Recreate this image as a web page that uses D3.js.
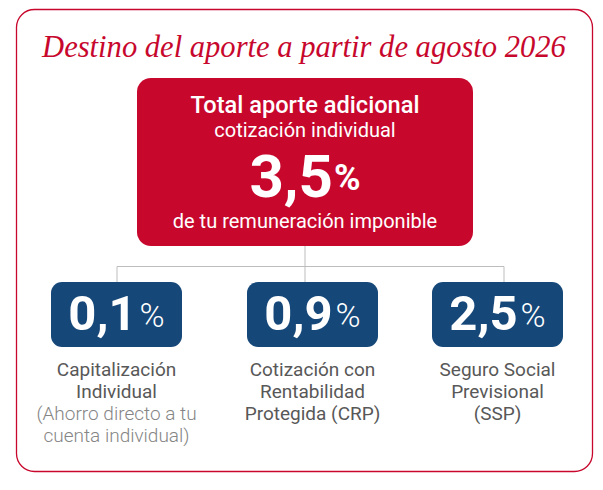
<!DOCTYPE html>
<html>
<head>
<meta charset="utf-8">
<script src="https://cdn.jsdelivr.net/npm/d3@7"></script>
<style>
  html, body { margin: 0; padding: 0; background: #fff; }
  svg { display: block; }
</style>
</head>
<body>
<div id="chart"></div>
<script>
// Chart content
const title = "Destino del aporte a partir de agosto 2026"
const totalHeading = "Total aporte adicional"
const totalSubheading = "cotización individual"
const totalValue = "3,5"
const totalFooter = "de tu remuneración imponible"

const categories = ["cap", "crp", "ssp"]
const partValues = ["0,1", "0,9", "2,5"]
const partLabels = [
  ["Capitalización", "Individual"],
  ["Cotización con", "Rentabilidad", "Protegida (CRP)"],
  ["Seguro Social", "Previsional", "(SSP)"]
]
const partNotes = [
  ["(Ahorro directo a tu", "cuenta individual)"],
  [],
  []
]

const config = {
  width: 603,
  height: 490,
  colors: {
    red: "#c8072d",
    blue: "#154778",
    line: "#bdbdbd",
    label: "#585858",
    note: "#858585"
  },
  font: "Roboto, 'Noto Sans', sans-serif"
}

const svg = d3.select("#chart")
  .append("svg")
  .attr("width", config.width)
  .attr("height", config.height)

// Outer frame
svg.append("rect")
  .attr("x", 16.5)
  .attr("y", 9.5)
  .attr("width", 576)
  .attr("height", 462)
  .attr("rx", 18)
  .attr("fill", "#fff")
  .attr("stroke", config.colors.red)
  .attr("stroke-width", 1.3)

// Title: shrink to the reference width only if it runs wider
const titleWidth = 524
const titleText = svg.append("text")
  .attr("x", 304)
  .attr("y", 57)
  .attr("text-anchor", "middle")
  .attr("font-family", "'Liberation Serif', 'DejaVu Serif', serif")
  .attr("font-style", "italic")
  .attr("font-size", 33)
  .attr("fill", config.colors.red)
  .text(title)

const natural = titleText.node().getComputedTextLength()
if (natural > titleWidth) {
  titleText.attr("font-size", 33 * titleWidth / natural)
}

// Total box
const totalBox = { x: 137, y: 78, w: 336, h: 168 }
const totalCx = totalBox.x + totalBox.w / 2

// Connectors
const dropX = [117, 305, 504]
const joinY = 266.5
const connectors = svg.append("g")
  .attr("stroke", config.colors.line)
  .attr("stroke-width", 1)
  .attr("fill", "none")

connectors.append("line")
  .attr("x1", totalCx).attr("x2", totalCx)
  .attr("y1", totalBox.y + totalBox.h).attr("y2", joinY)

connectors.append("line")
  .attr("x1", d3.min(dropX)).attr("x2", d3.max(dropX))
  .attr("y1", joinY).attr("y2", joinY)

connectors.selectAll("line.drop")
  .data(dropX)
  .join("line")
  .attr("class", "drop")
  .attr("x1", d => d).attr("x2", d => d)
  .attr("y1", joinY).attr("y2", 282)

svg.append("rect")
  .attr("x", totalBox.x)
  .attr("y", totalBox.y)
  .attr("width", totalBox.w)
  .attr("height", totalBox.h)
  .attr("rx", 14)
  .attr("fill", config.colors.red)

const totalText = svg.append("g")
  .attr("font-family", config.font)
  .attr("fill", "#fff")
  .attr("text-anchor", "middle")

totalText.append("text")
  .attr("x", totalCx).attr("y", 112.5)
  .attr("font-size", 23.6)
  .attr("font-weight", 500)
  .text(totalHeading)

totalText.append("text")
  .attr("x", totalCx).attr("y", 136.5)
  .attr("font-size", 20)
  .text(totalSubheading)

const big = totalText.append("text")
  .attr("x", totalCx).attr("y", 197)
  .attr("font-weight", 700)
  .attr("font-size", 60)
big.append("tspan").text(totalValue)
big.append("tspan")
  .attr("font-size", 36)
  .attr("dy", -7)
  .attr("dx", 1)
  .text("%")

totalText.append("text")
  .attr("x", totalCx).attr("y", 227.5)
  .attr("font-size", 20)
  .text(totalFooter)

// Part boxes
const xCenter = d3.scaleOrdinal()
  .domain(categories)
  .range([116.5, 312.5, 497.5])

const boxW = 131
const boxH = 65
const boxY = 282

const parts = svg.selectAll("g.part")
  .data(categories.map((c, i) => ({
    key: c,
    value: partValues[i],
    label: partLabels[i],
    note: partNotes[i]
  })))
  .join("g")
  .attr("class", "part")
  .attr("transform", d => `translate(${xCenter(d.key)},0)`)
  .attr("font-family", config.font)
  .attr("text-anchor", "middle")

parts.append("rect")
  .attr("x", -boxW / 2)
  .attr("y", boxY)
  .attr("width", boxW)
  .attr("height", boxH)
  .attr("rx", 11)
  .attr("fill", config.colors.blue)

const num = parts.append("text")
  .attr("y", 330)
  .attr("fill", "#fff")
  .attr("font-size", 49)
  .attr("font-weight", 700)
num.append("tspan").text(d => d.value)
num.append("tspan")
  .attr("font-size", 34)
  .attr("font-weight", 300)
  .attr("dx", 3)
  .attr("dy", -3)
  .text("%")

const lineH = 22
parts.each(function(d) {
  const g = d3.select(this)
  const lines = d.label.map(t => ({ t, note: false }))
    .concat(d.note.map(t => ({ t, note: true })))
  g.selectAll("text.label")
    .data(lines)
    .join("text")
    .attr("class", "label")
    .attr("y", (l, i) => 376 + i * lineH)
    .attr("font-size", 19)
    .attr("font-weight", l => l.note ? 300 : 400)
    .attr("fill", l => l.note ? config.colors.note : config.colors.label)
    .text(l => l.t)
})
</script>
</body>
</html>
